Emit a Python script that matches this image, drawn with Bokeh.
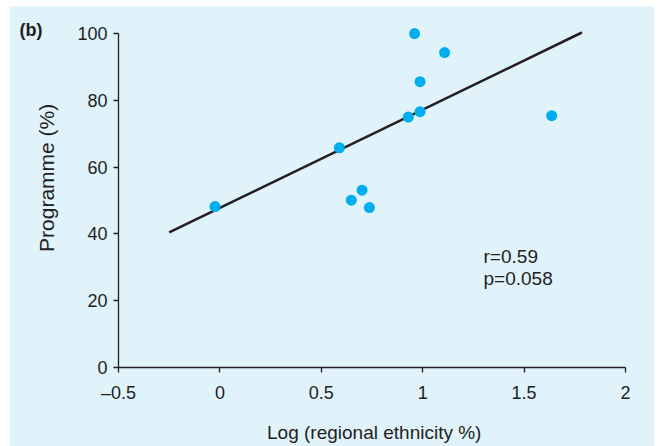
from bokeh.plotting import figure
from bokeh.models import Range1d, FixedTicker, Label
from bokeh.embed import file_html
from bokeh.resources import INLINE
import math

# Data
log_ethnicity = [-0.024, 0.589, 0.648, 0.701, 0.737, 0.929, 0.960, 0.987, 0.987, 1.108, 1.636]
programme = [48.2, 65.8, 50.1, 53.1, 47.9, 75.0, 100.0, 85.6, 76.6, 94.3, 75.4]
fit_x = [-0.25, 1.785]
fit_y = [40.45, 100.3]
x_ticks = [-0.5, 0, 0.5, 1, 1.5, 2]
x_tick_labels = ["\u20130.5", "0", "0.5", "1", "1.5", "2"]
y_ticks = [0, 20, 40, 60, 80, 100]
stats_lines = ["r=0.59", "p=0.058"]

BG = "#e0f2fa"
INK = "#231f20"
DOT = "#00aeef"
FONT = "Liberation Sans"

p = figure(
    frame_width=645, frame_height=440, min_border=0,
    x_range=Range1d(-1.0375, 2.1430), y_range=Range1d(-23.655, 108.097),
    output_backend="svg", toolbar_location=None,
    background_fill_color=BG, border_fill_color=BG,
)
p.margin = (6, 0, 0, 9)
p.outline_line_color = None
p.xgrid.visible = False
p.ygrid.visible = False

p.line(fit_x, fit_y, line_color=INK, line_width=2.6)
p.scatter(log_ethnicity, programme, size=11, fill_color=DOT, line_color=None)

for ax in (p.xaxis[0], p.yaxis[0]):
    ax.axis_line_color = INK
    ax.axis_line_width = 1.3
    ax.major_tick_line_color = INK
    ax.major_tick_line_width = 1.3
    ax.major_tick_out = 5
    ax.major_tick_in = 0
    ax.minor_tick_line_color = None
    ax.major_label_text_font = FONT
    ax.major_label_text_font_size = "18px"
    ax.major_label_text_color = INK

p.xaxis.fixed_location = 0
p.xaxis.bounds = (-0.5, 2)
p.xaxis.ticker = FixedTicker(ticks=x_ticks)
p.xaxis.major_label_overrides = {t: l for t, l in zip(x_ticks, x_tick_labels)}
p.xaxis.major_label_standoff = 10

p.yaxis.fixed_location = -0.5
p.yaxis.bounds = (0, 100)
p.yaxis.ticker = FixedTicker(ticks=y_ticks)
p.yaxis.major_label_standoff = 6

def add_text(x, y, text, size, angle=0.0, align="left", bold=False):
    p.add_layout(Label(x=x, y=y, text=text, angle=angle,
                       text_align=align, text_baseline="alphabetic",
                       text_font=FONT, text_font_size=size,
                       text_font_style="bold" if bold else "normal",
                       text_color=INK))

add_text(0.761, -19.46, "Log (regional ethnicity %)", "19px", align="center")
add_text(-0.8575, 56.8, "Programme (%)", "21px", angle=math.pi / 2, align="center")
add_text(-0.988, 101.15, "(b)", "18px", bold=True)
add_text(1.30, 33.26, stats_lines[0], "19px")
add_text(1.30, 26.76, stats_lines[1], "19px")

open("out.html", "w").write(file_html(p, INLINE))
